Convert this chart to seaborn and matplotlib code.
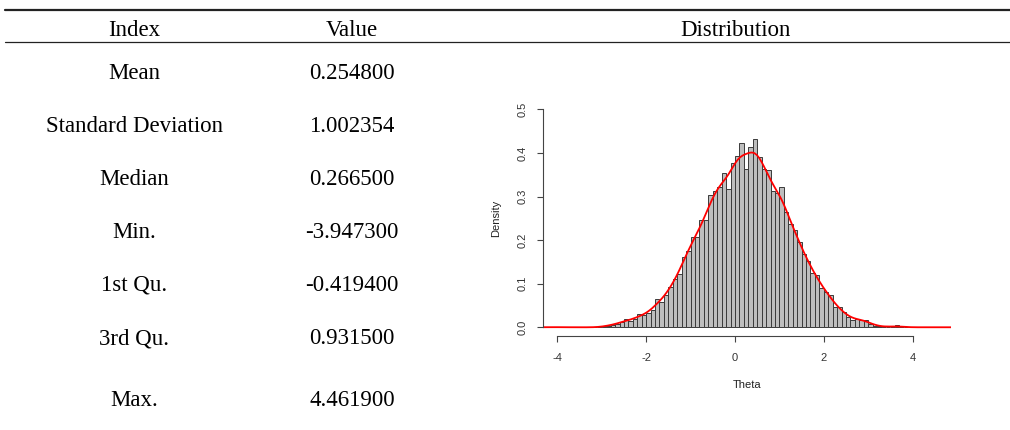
import numpy as np
import pandas as pd
import seaborn as sns
import matplotlib.pyplot as plt

# summary table
index_labels = ['Mean', 'Standard Deviation', 'Median', 'Min.', '1st Qu.', '3rd Qu.', 'Max.']
index_values = ['0.254800', '1.002354', '0.266500', '-3.947300', '-0.419400', '0.931500', '4.461900']

# histogram of theta, density per bin of width 0.1 (left edges -4.0 .. 4.4)
bin_left = np.round(np.arange(-4.0, 4.45, 0.1), 1)
density = [
    0.001, 0, 0, 0, 0, 0, 0, 0, 0, 0,
    0.002, 0.004, 0.006, 0.008, 0.011, 0.019, 0.015, 0.018, 0.030, 0.028,
    0.032, 0.040, 0.064, 0.057, 0.075, 0.093, 0.110, 0.122, 0.161, 0.174,
    0.208, 0.206, 0.245, 0.245, 0.303, 0.313, 0.321, 0.355, 0.317, 0.378,
    0.394, 0.423, 0.362, 0.414, 0.431, 0.391, 0.364, 0.361, 0.312, 0.307,
    0.321, 0.265, 0.237, 0.223, 0.196, 0.167, 0.153, 0.124, 0.121, 0.089,
    0.082, 0.074, 0.046, 0.046, 0.034, 0.023, 0.017, 0.020, 0.017, 0.017,
    0.008, 0.004, 0.002, 0.001, 0.001, 0.001, 0.005, 0.001, 0, 0,
    0, 0, 0, 0, 0.001,
]

df = pd.DataFrame({'theta': bin_left + 0.05, 'density': density})
edges = [round(e, 1) for e in np.arange(-4.0, 4.55, 0.1)]

sns.set_style('white')
plt.rcParams['font.family'] = ['Liberation Sans', 'DejaVu Sans']
plt.rcParams['text.color'] = 'black'
plt.rcParams['axes.labelcolor'] = 'black'
plt.rcParams['xtick.color'] = '#333333'
plt.rcParams['ytick.color'] = '#333333'

fig = plt.figure(figsize=(10.1, 4.3), dpi=100)

# table rules
W, H = 1010, 430
fig.add_artist(plt.Line2D([5 / W, 1], [1 - 10 / H, 1 - 10 / H], color='#222222', lw=1.6))
fig.add_artist(plt.Line2D([5 / W, 1], [1 - 42 / H, 1 - 42 / H], color='#222222', lw=0.9))

serif = dict(family='Liberation Serif', fontsize=16.5, ha='center', va='center',
             color='black')
fig.text(134 / W, 1 - 30 / H, 'Index', **serif)
fig.text(352 / W, 1 - 30 / H, 'Value', **serif)
fig.text(735 / W, 1 - 30 / H, 'Distribution', **serif)

row_y = [73.5, 126.5, 179.5, 232.5, 285.5, 338.5, 400.5]
for lab, val, y in zip(index_labels, index_values, row_y):
    fig.text(134 / W, 1 - y / H, lab, **serif)
    fig.text(352 / W, 1 - y / H, val, **serif)

# histogram panel
ax = fig.add_axes([542.7 / W, 1 - 336 / H, (950.8 - 542.7) / W, (336 - 100.6) / H])
sns.histplot(data=df, x='theta', weights='density', bins=edges, stat='count',
             color='#bebebe', edgecolor='#3a3a3a', linewidth=0.7, alpha=1, ax=ax)
sns.kdeplot(data=df, x='theta', weights='density', bw_method=0.15, cut=3,
            color='red', lw=1.3, ax=ax)

ax.set_xlim(-4.33, 4.86)
ax.set_ylim(-0.02, 0.52)
ax.set_xticks([-4, -2, 0, 2, 4])
ax.set_xticklabels(['-4', '-2', '0', '2', '4'], fontsize=8)
ax.set_yticks([0, 0.1, 0.2, 0.3, 0.4, 0.5])
ax.set_yticklabels(['0.0', '0.1', '0.2', '0.3', '0.4', '0.5'], fontsize=8,
                   rotation=90, va='center')
ax.set_xlabel('Theta', fontsize=8, labelpad=12.5, color='#222222')
ax.set_ylabel('Density', fontsize=8, labelpad=12, color='#222222')
for s in ['top', 'right']:
    ax.spines[s].set_visible(False)
ax.spines['left'].set_bounds(0, 0.5)
ax.spines['bottom'].set_bounds(-4, 4)
for s in ['left', 'bottom']:
    ax.spines[s].set_color('#444444')
    ax.spines[s].set_linewidth(0.8)
ax.tick_params(axis='x', pad=7.5)
ax.tick_params(axis='y', pad=6)
ax.tick_params(axis='both', direction='out', length=4.5, width=0.8,
               color='#444444', left=True, bottom=True)
ax.patch.set_alpha(0)

fig.savefig('out.png', dpi=100)
